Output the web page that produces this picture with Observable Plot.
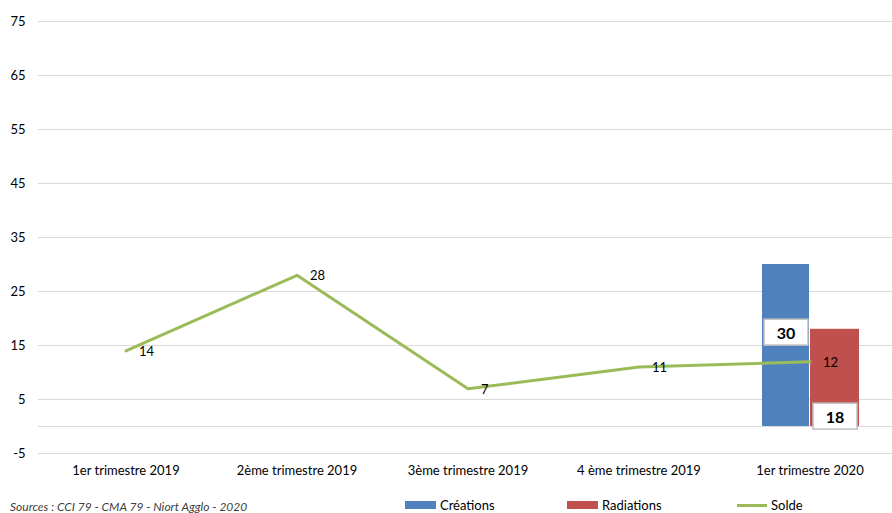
<!DOCTYPE html>
<html><head><meta charset="utf-8">
<script src="https://cdn.jsdelivr.net/npm/d3@7"></script>
<script src="https://cdn.jsdelivr.net/npm/@observablehq/plot@0.6"></script>
<style>
body{margin:0;background:#fff;}
#wrap{position:relative;width:892px;height:513px;overflow:hidden;font-family:Lato,"Open Sans",sans-serif;color:#000;}
#chart{position:absolute;left:0;top:0;}
.src{position:absolute;left:10px;top:502px;font-size:12px;line-height:10px;font-style:italic;color:#404040;white-space:nowrap;}
.leg{position:absolute;top:497px;font-size:13px;line-height:16px;white-space:nowrap;display:flex;align-items:center;}
.sw{display:inline-block;width:31px;height:8px;margin-right:4px;}
.ln{display:inline-block;width:30px;height:3px;margin-right:4px;}
</style></head><body>
<div id="wrap"><div id="chart"></div>
<div class="src">Sources : CCI 79 - CMA 79 - Niort Agglo - 2020</div>
<div class="leg" style="left:405px"><span class="sw" style="background:#4F81BD"></span>Créations</div>
<div class="leg" style="left:567px"><span class="sw" style="background:#C0504D"></span>Radiations</div>
<div class="leg" style="left:737px"><span class="ln" style="background:#9BBB59"></span>Solde</div>
</div>
<script>
const categories = ["1er trimestre 2019","2ème trimestre 2019","3ème trimestre 2019","4 ème trimestre 2019","1er trimestre 2020"];
const creations = [null,null,null,null,30];
const radiations = [null,null,null,null,18];
const solde = [14,28,7,11,12];
const yTicks = [-5,5,15,25,35,45,55,65,75];
const gridValues = [-5,0,5,15,25,35,45,55,65,75];

const rows = categories.map((c,i)=>({cat:c, creations:creations[i], radiations:radiations[i], solde:solde[i]}));
const barsC = rows.filter(d=>d.creations!=null);
const barsR = rows.filter(d=>d.radiations!=null);

const LABEL_FILL = "#000001";
const chart = Plot.plot({
  width: 892,
  height: 490,
  marginLeft: 38, marginRight: 0, marginTop: 21, marginBottom: 37,
  style: {fontFamily: "Lato, 'Open Sans', sans-serif", fontSize: "13px", color: "#000", background: "#fff", overflow: "visible"},
  x: {type: "band", domain: categories, range: [38, 896], padding: 0, tickSize: 0, tickPadding: 12, label: null},
  y: {domain: [-5, 75], ticks: yTicks, tickSize: 0, tickPadding: 13, label: null, tickFormat: d => String(d)},
  marks: [
    Plot.ruleY(gridValues, {stroke: "#d9d9d9", strokeWidth: 1}),
    Plot.barY(barsC, {x: "cat", y: "creations", fill: "#4F81BD", insetLeft: 38, insetRight: 86}),
    Plot.barY(barsR, {x: "cat", y: "radiations", fill: "#C0504D", insetLeft: 86, insetRight: 36}),
    Plot.line(rows, {x: "cat", y: "solde", stroke: "#9BBB59", strokeWidth: 3}),
    Plot.text(rows, {x: "cat", y: "solde", text: d=>String(d.solde), textAnchor: "start", dx: 13, dy: 1, fill: "#000", fontSize: 13}),
    Plot.text(barsC, {x: "cat", y: "creations", text: d=>String(d.creations), dx: -24, dy: 69, fontWeight: "bold", fontSize: 16, fill: LABEL_FILL}),
    Plot.text(barsR, {x: "cat", y: 0, text: d=>String(d.radiations), dx: 25, dy: -9, fontWeight: "bold", fontSize: 16, fill: LABEL_FILL})
  ]
});
document.getElementById("chart").appendChild(chart);

// white boxes behind bar value labels
const labelNodes = Array.from(chart.querySelectorAll("text")).filter(t => {
  let n = t;
  while (n && n !== chart) {
    if (n.getAttribute && n.getAttribute("fill") === LABEL_FILL) return true;
    n = n.parentNode;
  }
  return false;
});
labelNodes.forEach(t => {
  const b = t.getBBox();
  const cx = b.x + b.width/2, cy = b.y + b.height/2;
  const w = 44, h = 26;
  const tr = t.getAttribute("transform");
  const r = document.createElementNS("http://www.w3.org/2000/svg","rect");
  r.setAttribute("x", cx - w/2); r.setAttribute("y", cy - h/2);
  r.setAttribute("width", w); r.setAttribute("height", h);
  r.setAttribute("fill", "#fff"); r.setAttribute("stroke", "#bfbfbf"); r.setAttribute("stroke-width", "1.5");
  if (tr) r.setAttribute("transform", tr);
  t.parentNode.insertBefore(r, t);
});
</script>
</body></html>
